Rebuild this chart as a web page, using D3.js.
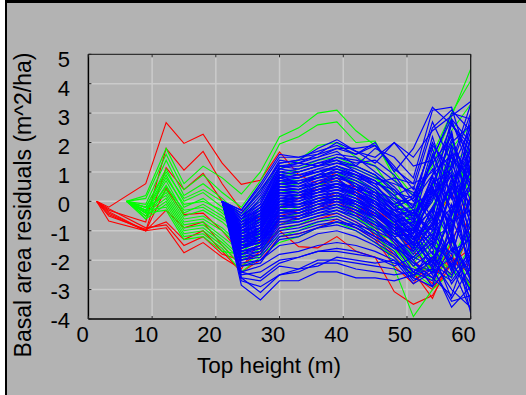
<!DOCTYPE html>
<html>
<head>
<meta charset="utf-8">
<script src="https://cdn.jsdelivr.net/npm/d3@7"></script>
<style>
  body { margin: 0; background: #fff; }
  text { font-family: "Liberation Sans", Arial, sans-serif; fill: #000; }
</style>
</head>
<body>
<div id="chart"></div>
<script>
// tick values
const xTicks = [0, 10, 20, 30, 40, 50, 60];
const yTicks = [5, 4, 3, 2, 1, 0, -1, -2, -3, -4];

// top height sample points for each group
const redX = [1.3, 3.2, 9, 12.2, 15, 18, 21, 24, 27, 30, 33, 36, 39, 42, 45, 48, 51, 54, 57, 60];
const greenX = [6, 9, 12.2, 15, 18, 21, 24, 27, 30, 33, 36, 39, 42, 45, 48, 51, 54, 57, 60];
const blueX = [21, 24, 27, 30, 33, 36, 39, 42, 45, 48, 51, 54, 57, 60];

// residual trajectories
const redLines = [
  [0, -0.2, 0.6, 2.68, 1.97, 2.28, 1.3, 0.58, 0.72, 1.68, 0.9, 0.6, 1.0, 0.4, -0.3, -0.7, -1.5, -0.8, 0.3, -1.2],
  [0, -0.3, -0.7, 1.8, 1.06, 1.7, 0.6, -0.3, -0.6, -0.2, 0.1, 0.5, 0.8, 0.2, -0.5, -1.0, -1.7, -2.3, -0.9, 0.5],
  [0, -0.45, -1.0, 1.15, 0.4, 0.95, 0.0, -1.2, -1.0, -0.5, -0.3, 0.0, 0.3, -0.1, -0.6, -1.4, -2.0, -2.6, -1.9, -2.5],
  [0, -0.67, -1.0, 0.45, -0.45, -0.4, -1.0, -1.8, -1.5, -1.0, -1.54, -1.58, -1.2, -1.7, -1.9, -3.07, -3.5, -3.2, -2.1, -1.6],
  [0, -0.35, -1.0, -0.3, -0.9, -0.7, -1.5, -2.2, -1.7, -0.9, -0.8, -0.6, -0.4, -0.7, -1.1, -1.8, -2.4, -3.3, -1.8, -2.9],
  [0, -0.5, -0.95, -0.7, -1.3, -1.0, -1.7, -2.4, -2.0, -1.2, -1.1, -0.9, -0.6, -0.9, -1.3, -2.2, -2.8, -1.9, -2.5, -1.0],
  [0, -0.25, -0.9, -0.8, -1.5, -1.2, -1.8, -2.0, -1.8, -0.6, -0.4, -0.2, 0.1, -0.3, -0.9, -1.6, -2.2, -2.8, -1.4, 0.2],
  [0, -0.4, -1.0, -0.9, -1.75, -1.4, -1.9, -2.3, -1.3, -0.8, -0.5, -0.3, 0.0, -0.4, -1.2, -1.9, -2.5, -3.0, -2.0, -2.2]
];

const greenLines = [
  [0, 0.2, 1.8, 0.6, 1.2, 0.8, 0.25, 1.0, 2.2, 2.5, 3.0, 3.1, 2.4, 1.9, 1.0, 0.2, 1.2, 2.9, 4.5],
  [0, 0.1, 1.6, 0.4, 0.9, 0.3, -0.2, 0.7, 1.95, 2.2, 2.6, 2.7, 2.0, 2.05, 0.8, -0.5, 1.6, 3.0, 4.1],
  [0, -0.1, 1.4, 0.2, 0.6, 0.1, -0.5, 0.4, 1.1, 1.4, 1.9, 2.0, 1.5, 1.2, 0.3, -1.0, 0.9, 2.4, 3.3],
  [0, -0.2, 1.1, 0.0, 0.3, -0.2, -0.7, 0.1, 0.6, 0.8, 1.0, 1.2, 0.8, 0.3, -0.4, -1.6, -0.2, 1.3, 1.8],
  [0, -0.3, 0.9, -0.2, 0.1, -0.4, -0.9, -0.2, 0.5, 0.6, 0.9, 1.0, 0.6, 0.0, -0.8, -2.0, -1.1, 0.6, -0.4],
  [0, -0.4, 0.7, -0.4, -0.1, -0.5, -1.1, -0.4, 0.3, 0.4, 0.6, 0.7, 0.3, -0.3, -1.2, -2.4, -2.9, -1.6, -2.5],
  [0, -0.5, 0.55, -0.5, -0.3, -0.7, -1.3, -0.6, 0.0, 0.2, 0.4, 0.5, 0.1, -0.6, -1.5, -2.2, -2.7, -1.3, -3.0],
  [0, -0.6, 0.4, -0.6, -0.5, -0.9, -1.5, -0.9, -0.3, -0.1, 0.2, 0.3, -0.1, -0.8, -2.27, -3.92, -3.0, -2.4, -1.0],
  [0, -0.3, 0.3, -0.7, -0.6, -1.0, -1.6, -1.1, -0.6, -0.4, -0.1, 0.1, -0.3, -1.0, -1.6, -2.5, -2.2, 0.7, 1.2],
  [0, -0.2, 0.2, -0.8, -0.7, -1.2, -1.7, -1.3, -0.8, -0.6, -0.3, -0.1, -0.5, -1.1, -1.3, -1.8, -0.5, 1.5, 0.4],
  [0, -0.4, 0.1, -0.9, -0.8, -1.3, -1.9, -1.4, -1.0, -0.8, -0.5, -0.3, -0.6, -0.9, -1.1, -1.4, -2.4, -0.8, 2.2],
  [0, -0.5, 0.0, -1.0, -0.9, -1.4, -2.0, -1.6, -1.2, -1.0, -0.7, -0.5, -0.8, -1.2, -1.7, -2.1, -1.4, -2.0, -0.7],
  [0, -0.6, -0.1, -1.1, -1.0, -1.5, -2.2, -1.8, -1.4, -1.2, -0.9, -0.7, -1.0, -1.4, -1.9, -2.6, -2.0, -0.3, 0.9],
  [0, -0.3, -0.2, -1.2, -1.1, -1.6, -2.4, -1.9, -0.2, 0.3, 0.5, 0.9, 0.7, 0.4, -0.1, -0.6, 0.2, 1.1, -1.8],
  [0, -0.4, -0.3, -1.3, -1.2, -1.7, -1.8, -1.0, 0.8, 1.0, 1.2, 1.4, 1.1, 0.8, 0.2, -0.3, 0.5, 2.0, 0.1],
  [0, -0.5, 0.5, -0.3, -0.2, -0.6, -1.0, -0.8, 0.6, 0.7, 0.8, 1.0, 0.5, 0.2, -0.5, -1.2, -1.9, -2.3, -2.9],
  [0, -0.2, 1.0, 0.1, 0.4, 0.0, -0.6, -0.5, 0.9, 1.1, 1.4, 1.5, 1.2, 0.9, 0.0, -0.8, 0.0, 1.8, 2.6],
  [0, -0.35, 0.8, -0.1, 0.0, -0.3, -1.2, -1.2, -0.4, -0.2, 0.0, 0.2, -0.2, -0.7, -1.0, -1.3, -1.6, -2.6, -1.5]
];

const blueLines = [
  [0, -0.3, 0.5, 1.5, 1.5, 1.6, 1.8, 1.6, 1.9, 1.2, 0.4, 2.5, 3.1, 2.4],
  [0, -0.4, 0.3, 1.4, 1.3, 1.6, 2.0, 1.7, 1.3, 2.0, 1.5, 2.4, 2.9, 3.4],
  [0, -0.5, 0.2, 1.3, 1.4, 1.5, 1.7, 1.2, 1.8, 1.5, 0.8, 3.1, 3.2, 1.0],
  [0, -0.5, 0.0, 1.2, 1.2, 1.4, 1.6, 1.5, 1.0, 0.5, -0.2, 1.5, 2.8, 2.0],
  [0, -0.6, -0.1, 1.1, 1.3, 1.2, 1.5, 1.3, 1.4, 0.9, 0.0, 0.9, 2.3, -0.5],
  [0, -0.6, -0.2, 1.0, 1.1, 1.3, 1.4, 1.0, 0.7, 0.2, -0.6, 0.6, 2.0, 2.6],
  [0, -0.7, -0.3, 0.9, 1.0, 1.2, 1.3, 1.1, 0.8, 0.6, 0.3, -0.8, 1.6, 0.7],
  [0, -0.7, -0.2, 0.8, 0.9, 1.0, 1.2, 0.9, 0.5, 0.0, -0.4, 1.8, -0.5, 1.6],
  [0, -0.8, -0.4, 0.8, 0.8, 1.1, 1.1, 0.8, 0.6, -0.2, -0.9, -0.3, 1.2, 3.0],
  [0, -0.8, -0.5, 0.7, 0.7, 0.9, 1.0, 0.7, 0.3, 0.1, -0.5, 0.4, -1.0, 1.1],
  [0, -0.9, -0.5, 0.6, 0.7, 0.8, 1.0, 0.8, 0.4, -0.4, -1.1, -0.2, 0.9, -1.6],
  [0, -0.9, -0.6, 0.6, 0.5, 0.8, 0.9, 0.5, 0.2, -0.1, 0.2, 1.3, 2.2, 0.3],
  [0, -1.0, -0.7, 0.5, 0.5, 0.7, 0.8, 0.6, 0.1, -0.5, -0.8, -1.5, 0.4, 2.1],
  [0, -1.0, -0.8, 0.4, 0.4, 0.6, 0.7, 0.4, 0.3, -0.3, -0.6, 0.8, -0.2, -1.2],
  [0, -1.0, -0.6, 0.4, 0.3, 0.6, 0.8, 0.3, 0.0, -0.6, -1.0, 0.1, 1.5, 0.6],
  [0, -1.1, -0.8, 0.3, 0.3, 0.5, 0.6, 0.5, -0.1, -0.4, -1.3, -0.9, 0.6, 1.8],
  [0, -1.1, -0.9, 0.2, 0.2, 0.4, 0.6, 0.2, 0.0, -0.7, -0.4, 0.5, -0.7, -0.3],
  [0, -1.2, -0.9, 0.2, 0.1, 0.4, 0.5, 0.3, -0.2, -0.5, -1.2, -2.0, -0.5, 1.3],
  [0, -1.2, -1.0, 0.1, 0.2, 0.3, 0.4, 0.1, -0.3, -0.8, -0.7, 0.2, 1.0, -2.2],
  [0, -1.2, -1.0, 0.0, 0.0, 0.3, 0.5, 0.2, -0.1, -0.6, -1.5, -1.1, -1.8, 0.2],
  [0, -1.3, -1.1, 0.0, 0.1, 0.2, 0.3, 0.0, -0.4, -0.9, -1.0, 0.7, 0.1, 2.4],
  [0, -1.3, -1.1, -0.1, -0.1, 0.2, 0.3, 0.1, -0.2, -0.7, -1.4, -0.6, -2.3, -0.8],
  [0, -1.4, -1.2, -0.2, -0.1, 0.1, 0.2, -0.1, -0.5, -1.0, -0.8, -1.8, 0.5, -1.0],
  [0, -1.4, -1.2, -0.2, -0.2, 0.0, 0.2, 0.0, -0.3, -0.9, -1.6, -0.4, 1.9, 0.9],
  [0, -1.5, -1.3, -0.3, -0.3, 0.0, 0.1, -0.2, -0.6, -1.1, -1.2, -2.3, -1.2, -2.6],
  [0, -1.5, -1.3, -0.4, -0.3, -0.1, 0.0, -0.1, -0.4, -1.0, -1.8, -1.0, -0.2, 0.4],
  [0, -1.6, -1.4, -0.4, -0.4, -0.2, 0.0, -0.3, -0.7, -1.2, -1.1, 0.3, -1.5, -3.1],
  [0, -1.6, -1.4, -0.5, -0.5, -0.2, -0.1, -0.3, -0.6, -1.3, -2.0, -1.4, -2.8, -1.9],
  [0, -1.7, -1.5, -0.6, -0.5, -0.3, -0.2, -0.4, -0.8, -1.1, -1.5, -2.5, -0.9, -3.5],
  [0, -1.7, -1.6, -0.6, -0.6, -0.4, -0.2, -0.5, -0.8, -1.4, -2.2, -1.7, -3.3, -2.2],
  [0, -1.8, -1.6, -0.7, -0.7, -0.5, -0.3, -0.6, -1.0, -1.3, -1.7, -0.8, -2.4, -0.6],
  [0, -1.8, -1.7, -0.8, -0.7, -0.5, -0.4, -0.7, -1.1, -1.5, -2.4, -2.7, -1.1, -3.8],
  [0, -1.9, -1.8, -0.9, -0.8, -0.6, -0.5, -0.8, -1.2, -1.6, -1.9, -2.2, -3.6, -2.9],
  [0, -2.0, -1.8, -1.0, -0.9, -0.7, -0.6, -0.9, -1.3, -1.7, -2.6, -1.5, -2.0, -3.3],
  [0, -2.0, -1.9, -1.1, -1.0, -0.8, -0.7, -0.9, -1.2, -1.5, -2.1, -2.6, -3.2, -1.4],
  [0, -2.1, -2.0, -1.3, -1.2, -0.9, -0.8, -1.0, -1.4, -1.8, -2.4, -1.9, -1.3, -2.7],
  [0, -2.2, -2.0, -1.5, -1.4, -1.1, -1.0, -1.2, -1.5, -1.9, -2.7, -2.3, -2.7, -1.8],
  [0, -2.4, -2.2, -1.8, -1.7, -1.5, -1.4, -1.5, -1.7, -2.0, -2.5, -2.0, -3.0, -3.6],
  [0, -2.5, -2.4, -2.0, -1.9, -1.7, -1.7, -1.8, -1.9, -2.1, -2.3, -2.6, -1.6, -2.4],
  [0, -2.6, -2.7, -2.2, -2.3, -2.0, -2.0, -2.1, -2.2, -2.3, -2.6, -2.9, -2.1, -3.0],
  [0, -2.7, -2.9, -2.5, -2.4, -2.1, -2.1, -2.3, -2.4, -2.5, -2.4, -1.9, -2.5, -1.7],
  [0, -2.85, -3.35, -2.7, -2.7, -2.4, -2.4, -2.6, -2.6, -2.7, -2.5, -2.3, -3.4, -3.2],
  [0, -2.6, -3.1, -2.5, -2.3, -2.2, -1.9, -2.0, -2.1, -2.0, -2.8, -2.4, -1.9, -2.8],
  [0, -2.4, -2.6, -2.1, -1.9, -1.7, -1.6, -1.7, -1.9, -2.2, -1.9, -1.2, -2.2, -3.7],
  [0, -0.3, 0.6, 1.6, 1.5, 1.7, 1.9, 1.6, 2.0, 1.0, 1.8, 3.2, 2.6, 1.7],
  [0, -0.4, 0.4, 1.3, 1.4, 1.8, 2.1, 1.7, 1.5, 2.0, 1.2, 1.4, 3.0, 2.8],
  [0, -0.6, 0.1, 1.2, 1.3, 1.5, 1.8, 1.8, 1.9, 1.1, 0.6, 2.7, 1.3, 3.3],
  [0, -0.9, -0.4, 0.9, 0.6, 0.9, 1.2, 1.0, 0.6, 0.4, -0.3, -1.3, 1.7, 0.0],
  [0, -1.1, -0.7, 0.5, 0.4, 0.7, 0.9, 0.7, 0.4, -0.2, 0.1, 1.1, -0.4, 2.7],
  [0, -1.3, -0.9, 0.3, 0.2, 0.4, 0.6, 0.4, 0.1, -0.3, -0.9, 0.0, 2.4, -0.9],
  [0, -1.4, -1.0, 0.1, 0.0, 0.2, 0.4, 0.2, -0.1, -0.5, -0.3, -1.2, 0.8, 1.4],
  [0, -1.6, -1.2, -0.1, -0.2, 0.1, 0.2, 0.0, -0.3, -0.8, -1.3, -0.5, -2.0, 0.8],
  [0, -1.0, -0.9, 0.0, 0.1, 0.3, 0.4, 0.3, 0.0, -0.4, -0.8, 0.9, 1.6, -1.9],
  [0, -1.2, -1.1, -0.3, -0.3, -0.1, 0.1, -0.1, -0.4, -0.8, -1.3, 0.4, -0.9, 1.2],
  [0, -1.5, -1.4, -0.6, -0.5, -0.3, -0.1, -0.3, -0.5, -0.9, -0.7, -1.6, 0.3, -1.5],
  [0, -1.8, -1.5, -0.5, -0.4, -0.2, 0.1, 0.0, -0.4, -1.0, -1.6, -0.2, -1.4, 0.1],
  [0, -0.8, -0.3, 1.0, 0.9, 1.1, 1.3, 1.2, 0.9, 0.3, 0.1, 2.0, 0.8, -0.7],
  [0, -0.7, -0.4, 0.7, 0.8, 1.0, 1.1, 0.9, 0.6, 0.8, 0.6, 1.0, 2.6, 1.9],
  [0, -1.9, -1.7, -0.7, -0.6, -0.4, -0.3, -0.5, -0.9, -1.2, -2.0, -2.9, -0.6, -2.0],
  [0, -2.2, -2.1, -1.2, -1.1, -0.9, -0.7, -0.8, -1.0, -1.6, -1.4, -2.1, -2.6, -0.3],
  [0, -0.6, -0.3, 1.1, 1.0, 1.2, 1.4, 1.2, 0.9, 0.4, -0.2, 2.2, 0.1, 2.9],
  [0, -0.7, -0.5, 0.9, 0.8, 1.0, 1.2, 1.0, 0.7, 0.2, 0.5, -0.6, 2.7, 1.4],
  [0, -0.8, -0.6, 0.8, 0.6, 0.9, 1.0, 0.9, 0.5, -0.1, -0.7, 1.6, 0.2, -2.4],
  [0, -0.9, -0.7, 0.6, 0.6, 0.8, 0.9, 0.6, 0.2, -0.3, -0.5, 0.6, 2.1, 0.5],
  [0, -1.0, -0.8, 0.5, 0.4, 0.6, 0.9, 0.5, 0.2, -0.5, -1.2, -2.2, -0.3, 1.0],
  [0, -1.1, -0.8, 0.4, 0.3, 0.5, 0.7, 0.4, 0.1, -0.3, -0.2, 1.4, -1.3, 2.2],
  [0, -1.1, -1.0, 0.3, 0.2, 0.5, 0.6, 0.3, -0.1, -0.6, -1.1, 0.2, 0.9, -2.8],
  [0, -1.2, -0.9, 0.3, 0.3, 0.4, 0.5, 0.2, -0.2, -0.7, -0.6, -1.4, 1.3, -0.2],
  [0, -1.3, -1.0, 0.1, 0.1, 0.3, 0.5, 0.2, -0.2, -0.6, -1.7, -0.7, 0.5, 1.7],
  [0, -1.3, -1.2, 0.0, -0.1, 0.1, 0.3, 0.1, -0.3, -0.9, -1.1, 0.9, -1.7, -1.3],
  [0, -1.4, -1.1, -0.1, 0.0, 0.2, 0.3, -0.1, -0.4, -1.1, -0.9, -2.1, -0.4, 0.6],
  [0, -1.5, -1.2, -0.2, -0.2, 0.0, 0.1, -0.1, -0.5, -0.8, -1.5, 0.6, 1.1, -0.5],
  [0, -1.5, -1.4, -0.3, -0.4, -0.1, 0.0, -0.2, -0.6, -1.2, -1.9, -1.3, -0.8, 1.5],
  [0, -1.6, -1.3, -0.4, -0.3, -0.1, 0.1, -0.2, -0.5, -0.9, -1.4, -0.3, -2.2, -1.1],
  [0, -1.7, -1.5, -0.5, -0.6, -0.3, -0.1, -0.4, -0.7, -1.3, -2.1, -2.4, -0.1, -2.3],
  [0, -0.9, -0.5, 0.7, 0.6, 0.8, 1.1, 0.9, 0.7, 0.1, -0.1, 0.3, 2.8, 0.9],
  [0, -0.5, -0.1, 1.2, 1.1, 1.3, 1.5, 1.4, 1.2, 0.7, 0.2, 1.9, 1.1, 2.5],
  [0, -1.0, -0.6, 0.6, 0.5, 0.6, 0.8, 0.6, 0.3, -0.2, -0.4, -1.0, 1.9, -1.4],
  [0, -1.2, -1.0, 0.2, 0.2, 0.3, 0.6, 0.4, 0.0, -0.4, -1.0, 0.5, -1.1, 1.9],
  [0, -1.4, -1.3, -0.2, -0.1, 0.0, 0.2, 0.0, -0.2, -0.7, -1.2, -0.8, 0.7, -0.1]
];

const W = 526, H = 395;
const plotL = 88.4, plotR = 470.7, plotT = 54.3, plotB = 319;

const svg = d3.select("#chart").append("svg")
  .attr("width", W)
  .attr("height", H);

// figure frame
svg.append("rect").attr("x", 5).attr("y", 0).attr("width", W - 5).attr("height", H).attr("fill", "#000");
svg.append("rect").attr("x", 7).attr("y", 3).attr("width", W - 7).attr("height", H - 3).attr("fill", "#b3b3b3");

const x = d3.scaleLinear().domain([0, 60]).range([plotL, plotR]);
const y = d3.scaleLinear().domain([-4, 5]).range([plotB, plotT]);
// tick labels sit slightly off the grid in the original
const xLab = d3.scaleLinear().domain([0, 60]).range([82.5, 463.5]);
const yLab = d3.scaleLinear().domain([5, -4]).range([59, 320]);

// grid
svg.append("g")
  .selectAll("line")
  .data(xTicks.slice(1, -1))
  .join("line")
  .attr("x1", d => x(d)).attr("x2", d => x(d))
  .attr("y1", plotT).attr("y2", plotB)
  .attr("stroke", "#cbcbcb").attr("stroke-width", 1.5);

svg.append("g")
  .selectAll("line")
  .data(yTicks.slice(1, -1))
  .join("line")
  .attr("x1", plotL).attr("x2", plotR)
  .attr("y1", d => y(d)).attr("y2", d => y(d))
  .attr("stroke", "#cbcbcb").attr("stroke-width", 1.5);

// lines
svg.append("clipPath").attr("id", "clip")
  .append("rect").attr("x", plotL).attr("y", plotT)
  .attr("width", plotR - plotL).attr("height", plotB - plotT);

const plot = svg.append("g").attr("clip-path", "url(#clip)");

function drawGroup(lines, xs, color, w) {
  const line = d3.line().x((d, i) => x(xs[i])).y(d => y(d));
  plot.append("g")
    .selectAll("path")
    .data(lines)
    .join("path")
    .attr("fill", "none")
    .attr("stroke", color)
    .attr("stroke-width", w)
    .attr("d", line);
}

drawGroup(redLines, redX, "#ff0000", 1.1);
drawGroup(greenLines, greenX, "#00ff00", 1.1);
drawGroup(blueLines, blueX, "#0000ff", 1.2);

// axes box
svg.append("line").attr("x1", plotL).attr("x2", plotR).attr("y1", plotT).attr("y2", plotT)
  .attr("stroke", "#333").attr("stroke-width", 1.2);
svg.append("line").attr("x1", plotR).attr("x2", plotR).attr("y1", plotT).attr("y2", plotB)
  .attr("stroke", "#111").attr("stroke-width", 1.2);
svg.append("line").attr("x1", plotL).attr("x2", plotR).attr("y1", plotB).attr("y2", plotB)
  .attr("stroke", "#000").attr("stroke-width", 1.5);
svg.append("line").attr("x1", plotL).attr("x2", plotL).attr("y1", plotT).attr("y2", plotB)
  .attr("stroke", "#000").attr("stroke-width", 1.5);

// inward ticks
svg.append("g").selectAll("line").data(yTicks).join("line")
  .attr("x1", plotL).attr("x2", plotL + 3)
  .attr("y1", d => y(d)).attr("y2", d => y(d))
  .attr("stroke", "#222");
svg.append("g").selectAll("line").data(xTicks).join("line")
  .attr("x1", d => x(d)).attr("x2", d => x(d))
  .attr("y1", plotB).attr("y2", plotB - 3)
  .attr("stroke", "#222");
svg.append("g").selectAll("line").data(xTicks).join("line")
  .attr("x1", d => x(d)).attr("x2", d => x(d))
  .attr("y1", plotT).attr("y2", plotT + 3)
  .attr("stroke", "#222");

// tick labels
svg.append("g").selectAll("text").data(yTicks).join("text")
  .attr("x", 70)
  .attr("y", d => yLab(d))
  .attr("dy", "0.35em")
  .attr("text-anchor", "end")
  .style("font-size", "22px")
  .text(d => d);

svg.append("g").selectAll("text").data(xTicks).join("text")
  .attr("x", d => xLab(d))
  .attr("y", 341.5)
  .attr("text-anchor", "middle")
  .style("font-size", "22px")
  .text(d => d);

// axis titles
svg.append("text")
  .attr("x", 269)
  .attr("y", 372.5)
  .attr("text-anchor", "middle")
  .style("font-size", "22.5px")
  .text("Top height (m)");

svg.append("text")
  .attr("transform", "translate(31,205) rotate(-90)")
  .attr("text-anchor", "middle")
  .style("font-size", "23px")
  .text("Basal area residuals (m^2/ha)");
</script>
</body>
</html>
